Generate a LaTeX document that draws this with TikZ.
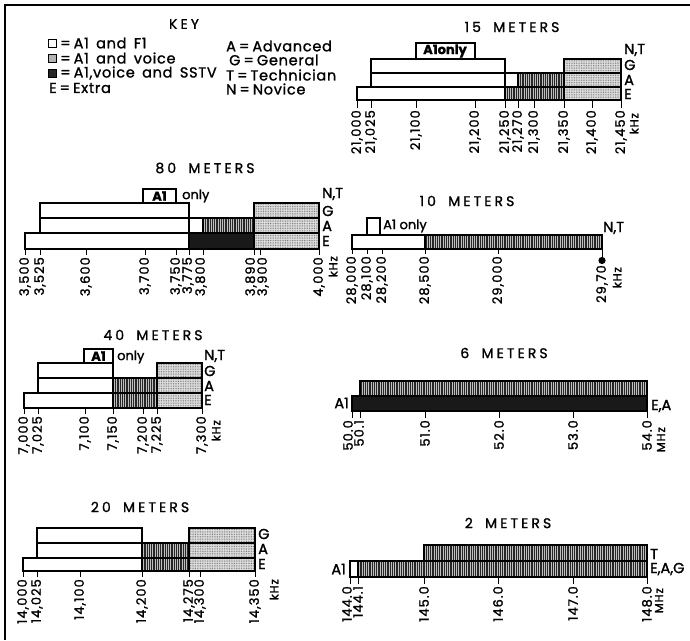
\documentclass[tikz,border=0pt]{standalone}
\usepackage{fontspec}
\setmainfont{Poppins}
\newfontfamily\ttlfont[LetterSpace=22,WordSpace=1.8,FakeBold=1.2]{Poppins}
\newfontfamily\keyfont[LetterSpace=5,WordSpace=1.6,FakeBold=1.3]{Poppins}
\newfontfamily\labfont[LetterSpace=8,FakeBold=1.5]{Poppins}
\newfontfamily\rowfont[FakeBold=1.5]{Poppins}
\usetikzlibrary{patterns.meta}
\newcommand\tickrow[4]{% #1 prefix, #2 bar bottom, #3 label top, #4 list
  \foreach \x/\t [count=\i] in {#4} {%
    \draw[tick] (\x,#2) -- (\x,#3-2);
    \node[tlab] (#1\i) at (\x,#3) {\t};}}
\newcommand\eqs{\hspace{3pt}=\hspace{3pt}}
\begin{document}
\begin{tikzpicture}[x=1pt,y=-1pt,
  bar/.style={draw=black,line width=1.1pt},
  wbox/.style={bar,fill=white},
  dotbox/.style={bar,preaction={fill=gray!25},pattern={Dots[distance=1.7pt,radius=0.45pt]},pattern color=black!60},
  strbox/.style={bar,preaction={fill=gray!50},pattern={Lines[angle=90,distance=1.8pt,line width=0.7pt]},pattern color=black!85},
  blkbox/.style={bar,fill=black!90},
  tick/.style={line width=1pt},
  ttl/.style={font=\ttlfont\fontsize{14}{16}\selectfont,inner sep=0pt},
  tlab/.style={rotate=90,anchor=east,inner sep=0pt,font=\labfont\fontsize{13}{14}\selectfont},
  unitlab/.style={rotate=90,anchor=east,inner sep=0pt,font=\labfont\fontsize{11.5}{12}\selectfont},
  rowlab/.style={anchor=west,inner sep=0pt,font=\rowfont\fontsize{14.5}{15}\selectfont},
  keytxt/.style={anchor=west,inner sep=0pt,font=\keyfont\fontsize{14.5}{15}\selectfont},
  onlytxt/.style={anchor=west,inner sep=0pt,font=\rowfont\fontsize{13}{14}\selectfont},
  boxtxt/.style={inner sep=0pt,font=\rowfont\bfseries\fontsize{13}{14}\selectfont},
]
\useasboundingbox[fill=white] (0,0) rectangle (690,640);
\draw[line width=1.3pt] (5,640) -- (5,5) -- (690,5);

% ---------------- KEY
\node[ttl] (keyt) at (184,24) {KEY};
\draw[bar,line width=0.8pt,fill=white] (48,39) rectangle (56,47);
\draw[bar,line width=0.8pt,fill=gray!60] (48,54) rectangle (56,62);
\draw[bar,line width=0.8pt,fill=black!85] (48,69) rectangle (56,77);
\node[keytxt] (k1) at (57,43) {\eqs A1 and F1};
\node[keytxt] (k2) at (57,58) {\eqs A1 and voice};
\node[keytxt] (k3) at (57,73) {\eqs A1,voice and SSTV};
\node[keytxt] (k4) at (49,88) {E\eqs Extra};
\node[keytxt] (k5) at (226,46) {A\eqs Advanced};
\node[keytxt] (k6) at (229,60) {G\eqs General};
\node[keytxt] (k7) at (226,75) {T\eqs Technician};
\node[keytxt] (k8) at (226,89) {N\eqs Novice};

% ---------------- 15 METERS
\node[ttl] (t15) at (512,27) {15 METERS};
\draw[wbox] (416,43) rectangle (475,59);
\node[boxtxt] (a15) at (445,51) {A1only};
\draw[wbox] (371,59) rectangle (505,73);
\draw[dotbox] (564,59) rectangle (621,73);
\draw[wbox] (371,73) rectangle (518,87);
\draw[strbox] (518,73) rectangle (564,87);
\draw[dotbox] (564,73) rectangle (621,87);
\draw[wbox] (357,87) rectangle (505,100);
\draw[strbox] (505,87) rectangle (564,100);
\draw[dotbox] (564,87) rectangle (621,100);
\draw[bar] (505,59) -- (505,100);
\node[rowlab] (n15) at (624,50) {N,T};
\node[rowlab] (g15) at (624,65) {G};
\node[rowlab] (a15r) at (624,80) {A};
\node[rowlab] (e15) at (624,94) {E};
\tickrow{l15-}{100}{110}{357/{21,000},371/{21,025},416/{21,100},475/{21,200},505/{21,250},518/{21,270},534/{21,300},564/{21,350},592/{21,400},621/{21,450}}
\node[unitlab] (u15) at (634,113) {kHz};

% ---------------- 80 METERS
\node[ttl] (t80) at (205,168) {80 METERS};
\draw[wbox] (143,189) rectangle (176,203);
\node[boxtxt] (a80) at (159.5,196) {A1};
\node[onlytxt] (o80) at (182,196) {only};
\draw[wbox] (40,203) rectangle (189,218);
\draw[dotbox] (254,203) rectangle (319,218);
\draw[wbox] (40,218) rectangle (203,233);
\draw[strbox] (203,218) rectangle (254,233);
\draw[dotbox] (254,218) rectangle (319,233);
\draw[wbox] (25,233) rectangle (189,249);
\draw[blkbox] (189,233) rectangle (254,249);
\draw[dotbox] (254,233) rectangle (319,249);
\draw[bar] (189,203) -- (189,249);
\node[rowlab] (n80) at (322,194) {N,T};
\node[rowlab] (g80) at (322,211) {G};
\node[rowlab] (a80r) at (322,226) {A};
\node[rowlab] (e80) at (322,241) {E};
\foreach \x in {25,40,86,145,176,189,203,254,260,319} {\draw[tick] (\x,249) -- (\x,255);}
\foreach \x/\t [count=\i] in {25/{3,500},40/{3,525},86/{3,600},145/{3,700},176/{3,750},188/{3,775},201/{3,800},251/{3,890},263/{3,900},319/{4,000}}
  {\node[tlab] (l80-\i) at (\x,257) {\t};}
\node[unitlab] (u80) at (333,256) {kHz};

% ---------------- 10 METERS
\node[ttl] (t10) at (467,201) {10 METERS};
\draw[wbox] (367,218) rectangle (380,235);
\node[onlytxt] (a10) at (383,226) {A1 only};
\draw[wbox] (352,235) rectangle (425,249);
\draw[strbox] (425,235) rectangle (602,249);
\node[rowlab] (n10) at (603,228) {N,T};
\tickrow{l10-}{249}{256}{352/{28,000},367/{28,100},382/{28,200},425/{28,500},498/{29,000}}
\draw[tick] (602,249) -- (602,257);
\fill (602,260.5) circle (3.6);
\node[tlab] (l10-6) at (602,265) {29,70};
\node[unitlab] (u10) at (617,267) {kHz};

% ---------------- 40 METERS
\node[ttl] (t40) at (153,335) {40 METERS};
\draw[wbox] (84,349) rectangle (113,363);
\node[boxtxt] (a40) at (98.5,356) {A1};
\node[onlytxt] (o40) at (117,357) {only};
\draw[wbox] (38,363) rectangle (113,378);
\draw[dotbox] (157,363) rectangle (202,378);
\draw[wbox] (38,378) rectangle (113,393);
\draw[strbox] (113,378) rectangle (157,393);
\draw[dotbox] (157,378) rectangle (202,393);
\draw[wbox] (24,393) rectangle (113,408);
\draw[strbox] (113,393) rectangle (157,408);
\draw[dotbox] (157,393) rectangle (202,408);
\node[rowlab] (n40) at (204,356) {N,T};
\node[rowlab] (g40) at (204,371) {G};
\node[rowlab] (a40r) at (204,386) {A};
\node[rowlab] (e40) at (204,400) {E};
\tickrow{l40-}{408}{416}{24/{7,000},38/{7,025},85/{7,100},113/{7,150},143/{7,200},157/{7,225},202/{7,300}}
\node[unitlab] (u40) at (216,420) {kHz};

% ---------------- 20 METERS
\node[ttl] (t20) at (140,507) {20 METERS};
\draw[wbox] (37,528) rectangle (142,543);
\draw[dotbox] (189,528) rectangle (255,543);
\draw[wbox] (37,543) rectangle (142,558);
\draw[strbox] (142,543) rectangle (189,558);
\draw[dotbox] (189,543) rectangle (255,558);
\draw[wbox] (23,558) rectangle (142,571);
\draw[strbox] (142,558) rectangle (189,571);
\draw[dotbox] (189,558) rectangle (255,571);
\node[rowlab] (g20) at (258,534) {G};
\node[rowlab] (a20r) at (258,549) {A};
\node[rowlab] (e20) at (258,564) {E};
\tickrow{l20-}{571}{579}{23/{14,000},37/{14,025},80/{14,100},142/{14,200},189/{14,275},200/{14,300},255/{14,350}}
\node[unitlab] (u20) at (274,579) {kHz};

% ---------------- 6 METERS
\node[ttl] (t6) at (504,353) {6 METERS};
\draw[strbox] (360,381) rectangle (647,396);
\draw[blkbox] (352,396) rectangle (647,411);
\node[rowlab,anchor=east] (a6) at (349,403) {A1};
\node[rowlab] (e6) at (651,406) {E,A};
\foreach \x in {352,360,425,499,573,647} {\draw[tick] (\x,411) -- (\x,418);}
\foreach \x/\t [count=\i] in {348/{50.0},359/{50.1},425/{51.0},499/{52.0},573/{53.0},647/{54.0}}
  {\node[tlab] (l6-\i) at (\x,420) {\t};}
\node[unitlab] (u6) at (661,427) {MHz};

% ---------------- 2 METERS
\node[ttl] (t2) at (508,523) {2 METERS};
\draw[strbox] (424,545) rectangle (647,561);
\draw[wbox] (350,561) rectangle (358,577);
\draw[strbox] (358,561) rectangle (647,577);
\node[rowlab,anchor=east] (a2) at (346,569) {A1};
\node[rowlab] (tt2) at (650,554) {T};
\node[rowlab] (e2) at (650,569) {E,A,G};
\foreach \x in {350,358,424,498,573,647} {\draw[tick] (\x,577) -- (\x,584);}
\foreach \x/\t [count=\i] in {347/{144.0},358/{144.1},424/{145.0},498/{146.0},573/{147.0},647/{148.0}}
  {\node[tlab] (l2-\i) at (\x,586) {\t};}
\node[unitlab] (u2) at (659,588) {MHz};
\end{tikzpicture}
\end{document}
